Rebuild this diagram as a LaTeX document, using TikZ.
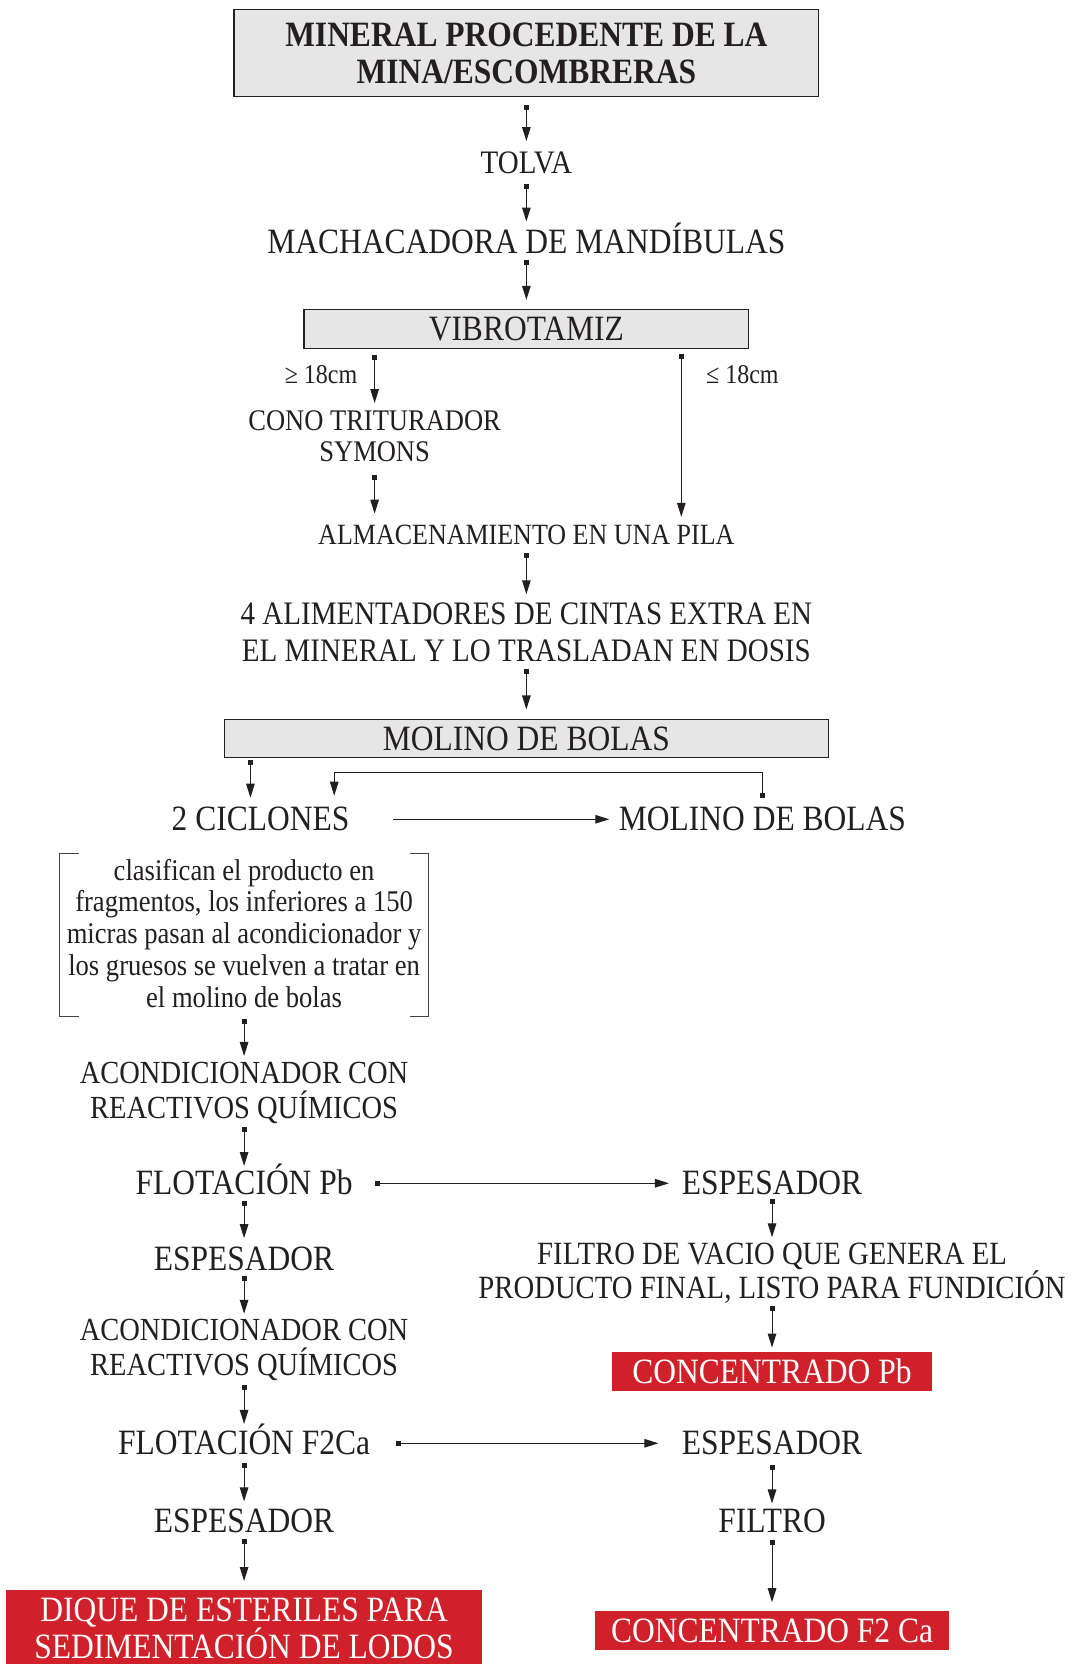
\documentclass[tikz,border=0pt]{standalone}
\usepackage{graphicx}
\usepackage{fontspec}
\setmainfont{Liberation Serif}
\usetikzlibrary{arrows.meta}
\definecolor{boxgray}{RGB}{230,230,231}
\definecolor{boxred}{RGB}{208,32,42}
\definecolor{ink}{RGB}{35,31,32}
\newcommand\capline[1]{\setbox0=\hbox{\scalebox{1}[1.13]{#1}}\ht0=1.13\fontcharht\font`H \dp0=0pt \box0}
\tikzset{
  lbl/.style={inner sep=0pt, align=center, text=ink},
  big/.style={lbl, font=\fontsize{31.5}{37}\selectfont},
  midf/.style={lbl, font=\fontsize{29}{35}\selectfont},
  smallf/.style={lbl, font=\fontsize{26.5}{31.8}\selectfont},
  tinyf/.style={lbl, font=\fontsize{24}{28}\selectfont},
  graybox/.style={draw=ink, line width=1.1pt, fill=boxgray, inner sep=0pt, align=center, text=ink},
  redbox/.style={fill=boxred, text=white, inner sep=0pt, align=center, font=\fontsize{31.5}{37}\selectfont},
  flow/.style={draw=ink, line width=1.1pt, {Square[length=5pt,width=5pt]}-{Triangle[length=14pt,width=8.5pt]}},
  flowns/.style={draw=ink, line width=1.1pt, -{Triangle[length=14pt,width=8.5pt]}},
  brk/.style={draw=ink!85, line width=1pt}
}
\begin{document}
\begin{tikzpicture}[x=1.0611pt,y=-1.0611pt]
\useasboundingbox (0,0) rectangle (1014,1568);
% nodes
\node[graybox, minimum width=584.7pt, minimum height=87pt, font=\bfseries\fontsize{31.5}{37}\selectfont] (top) at (496,50) {\capline{MINERAL PROCEDENTE DE LA}\\\capline{MINA/ESCOMBRERAS}};
\node[midf] (tolva) at (496,153) {\capline{TOLVA}};
\node[big] (mach) at (496,228) {\capline{MACHACADORA DE MANDÍBULAS}};
\node[graybox, minimum width=444.6pt, minimum height=38.2pt, font=\fontsize{31.5}{37}\selectfont] (vib) at (496,310) {\capline{VIBROTAMIZ}};
\node[tinyf] (ge) at (302.5,353) {\capline{≥ 18cm}};
\node[tinyf] (le) at (699.5,353) {\capline{≤ 18cm}};
\node[smallf] (cono) at (353,411) {\capline{CONO TRITURADOR}\\\capline{SYMONS}};
\node[lbl, font=\fontsize{26}{31}\selectfont] (alm) at (496,504) {\capline{ALMACENAMIENTO EN UNA PILA}};
\node[lbl, font=\fontsize{29}{37.1}\selectfont] (alim) at (496,595.5) {\capline{4 ALIMENTADORES DE CINTAS EXTRA EN}\\\capline{EL MINERAL Y LO TRASLADAN EN DOSIS}};
\node[graybox, minimum width=603.8pt, minimum height=38.2pt, font=\fontsize{31.5}{37}\selectfont] (mol) at (496,696) {\capline{MOLINO DE BOLAS}};
\node[big] (cic) at (245.5,772) {\capline{2 CICLONES}};
\node[big] (mol2) at (718.5,772) {\capline{MOLINO DE BOLAS}};
\node[lbl, font=\fontsize{26.6}{31.8}\selectfont] (clas) at (230,880) {\capline{clasifican el producto en}\\\capline{fragmentos, los inferiores a 150}\\\capline{micras pasan al acondicionador y}\\\capline{los gruesos se vuelven a tratar en}\\\capline{el molino de bolas}};
\node[lbl, font=\fontsize{28.5}{35}\selectfont] (acond1) at (230,1027.5) {\capline{ACONDICIONADOR CON}\\\capline{REACTIVOS QUÍMICOS}};
\node[big] (flotpb) at (230,1115) {\capline{FLOTACIÓN Pb}};
\node[big] (esp1R) at (727.5,1115) {\capline{ESPESADOR}};
\node[lbl, font=\fontsize{28.7}{34}\selectfont] (filtro) at (727.5,1198) {\capline{FILTRO DE VACIO QUE GENERA EL}\\\capline{PRODUCTO FINAL, LISTO PARA FUNDICIÓN}};
\node[redbox, minimum width=319.4pt, minimum height=39.3pt] (concpb) at (727.5,1292.5) {\capline{CONCENTRADO Pb}};
\node[big] (esp1L) at (230,1186) {\capline{ESPESADOR}};
\node[lbl, font=\fontsize{28.5}{35}\selectfont] (acond2) at (230,1269.5) {\capline{ACONDICIONADOR CON}\\\capline{REACTIVOS QUÍMICOS}};
\node[big] (flotf2) at (230,1360) {\capline{FLOTACIÓN F2Ca}};
\node[big] (esp2R) at (727.5,1360) {\capline{ESPESADOR}};
\node[big] (esp2L) at (230,1433) {\capline{ESPESADOR}};
\node[big] (filtro2) at (727.5,1433) {\capline{FILTRO}};
\node[redbox, minimum width=354.4pt, minimum height=39.3pt] (concf2) at (727.5,1536.5) {\capline{CONCENTRADO F2 Ca}};
\node[redbox, minimum width=475.4pt, minimum height=77.5pt] (dique) at (230,1534.5) {\capline{DIQUE DE ESTERILES PARA}\\\capline{SEDIMENTACIÓN DE LODOS}};
% bracket
\draw[brk] (74,804) -- (56,804) -- (56,958) -- (74,958);
\draw[brk] (386,804) -- (404,804) -- (404,958) -- (386,958);
% helper coordinates
\coordinate (vibR) at (642,328);
\coordinate (cicIn) at ([xshift=-10.1pt]cic.north);
\coordinate (cicR) at ([xshift=73.7pt]cic.north);
% connectors
\draw[flow, shorten <=7.4pt, shorten >=10.4pt] (top.south) -- (tolva.north);
\draw[flow, shorten <=10.4pt, shorten >=8.6pt] (tolva.south) -- (mach.north);
\draw[flow, shorten <=6.4pt, shorten >=9.5pt] (mach.south) -- (vib.north);
\draw[flow, shorten <=6.4pt, shorten >=7.2pt] (vib.south -| cono.north) -- (cono.north);
\draw[flow, shorten <=6.4pt, shorten >=8.2pt] (vibR) -- (vibR |- alm.north);
\draw[flow, shorten <=12.5pt, shorten >=11.4pt] (cono.south) -- (cono.south |- alm.north);
\draw[flow, shorten <=8.2pt, shorten >=8.2pt] (alm.south) -- (alim.north);
\draw[flow, shorten <=7.2pt, shorten >=9.5pt] (alim.south) -- (mol.north);
\draw[flow, shorten <=2pt, shorten >=9.7pt] (cicIn |- mol.south) -- (cicIn);
\draw[flow, shorten <=9.7pt, shorten >=11.7pt] (mol2.north) |- ([yshift=35pt]cicR) -- (cicR);
\draw[flowns, shorten <=43.5pt, shorten >=9.5pt] (cic.east) -- (mol2.west);
\draw[flow, shorten <=11.4pt, shorten >=6.2pt] (clas.south) -- (acond1.north);
\draw[flow, shorten <=8.2pt, shorten >=5.4pt] (acond1.south) -- (flotpb.north);
\draw[flow, shorten <=22pt, shorten >=12.7pt] (flotpb.east) -- (esp1R.west);
\draw[flow, shorten <=4.3pt, shorten >=6.2pt] (esp1R.south) -- (filtro.north);
\draw[flow, shorten <=7.3pt, shorten >=4.2pt] (filtro.south) -- (concpb.north);
\draw[flow, shorten <=5.4pt, shorten >=8.6pt] (flotpb.south) -- (esp1L.north);
\draw[flow, shorten <=5.4pt, shorten >=5.2pt] (esp1L.south) -- (acond2.north);
\draw[flow, shorten <=9.4pt, shorten >=7.5pt] (acond2.south) -- (flotf2.north);
\draw[flow, shorten <=25.5pt, shorten >=23.3pt] (flotf2.east) -- (esp2R.west);
\draw[flow, shorten <=7.5pt, shorten >=7.5pt] (flotf2.south) -- (esp2L.north);
\draw[flow, shorten <=6.5pt, shorten >=8.5pt] (esp2L.south) -- (dique.north);
\draw[flow, shorten <=9.7pt, shorten >=5.4pt] (esp2R.south) -- (filtro2.north);
\draw[flow, shorten <=7.5pt, shorten >=8.5pt] (filtro2.south) -- (concf2.north);
\end{tikzpicture}
\end{document}
